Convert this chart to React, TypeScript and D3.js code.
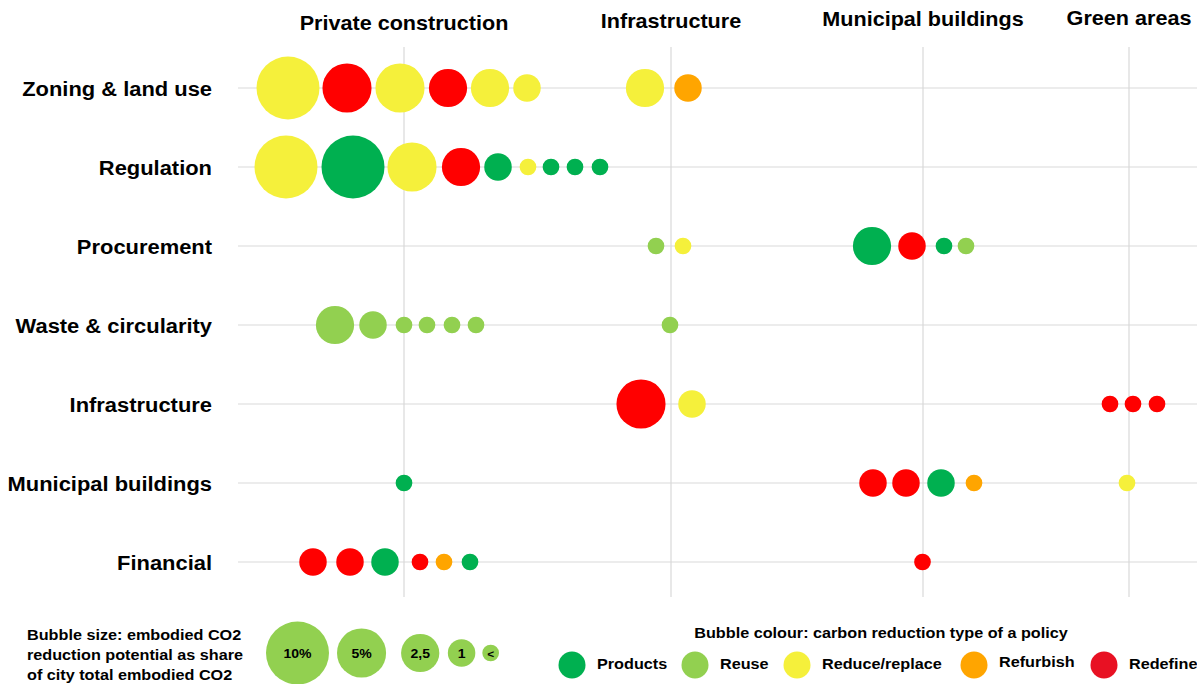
import * as d3 from "d3";

// policy areas (rows) and sectors (column groups)
const rows = [
  "Zoning & land use",
  "Regulation",
  "Procurement",
  "Waste & circularity",
  "Infrastructure",
  "Municipal buildings",
  "Financial",
];
const columnTitles = ["Private construction", "Infrastructure", "Municipal buildings", "Green areas"];
const columnX = [16.6, 43.3, 68.5, 89.1];

const types = ["Products", "Reuse", "Reduce/replace", "Refurbish", "Redefine"];
const typeColors = ["#00B050", "#92D050", "#F5F03B", "#FFA500", "#FF0000"];
const legendColors = ["#00B050", "#92D050", "#F5F03B", "#FFA500", "#E81123"];

const sizeLabels = ["10%", "5%", "2,5", "1", "<"];
const sizeValues = [10, 5, 2.5, 1, 0.25];

// [row, x, share of embodied CO2 (%), reduction type]
const bubbles: [string, number, number, string][] = [
  ["Zoning & land use", 5.0, 10, "Reduce/replace"],
  ["Zoning & land use", 10.9, 5, "Redefine"],
  ["Zoning & land use", 16.2, 5, "Reduce/replace"],
  ["Zoning & land use", 21.0, 2.5, "Redefine"],
  ["Zoning & land use", 25.2, 2.5, "Reduce/replace"],
  ["Zoning & land use", 28.9, 1, "Reduce/replace"],
  ["Zoning & land use", 40.7, 2.5, "Reduce/replace"],
  ["Zoning & land use", 45.0, 1, "Refurbish"],

  ["Regulation", 4.8, 10, "Reduce/replace"],
  ["Regulation", 11.5, 10, "Products"],
  ["Regulation", 17.4, 5, "Reduce/replace"],
  ["Regulation", 22.3, 2.5, "Redefine"],
  ["Regulation", 26.0, 1, "Products"],
  ["Regulation", 29.0, 0.25, "Reduce/replace"],
  ["Regulation", 31.3, 0.25, "Products"],
  ["Regulation", 33.7, 0.25, "Products"],
  ["Regulation", 36.2, 0.25, "Products"],

  ["Procurement", 41.8, 0.25, "Reuse"],
  ["Procurement", 44.5, 0.25, "Reduce/replace"],
  ["Procurement", 63.4, 2.5, "Products"],
  ["Procurement", 67.4, 1, "Redefine"],
  ["Procurement", 70.6, 0.25, "Products"],
  ["Procurement", 72.8, 0.25, "Reuse"],

  ["Waste & circularity", 9.7, 2.5, "Reuse"],
  ["Waste & circularity", 13.5, 1, "Reuse"],
  ["Waste & circularity", 16.6, 0.25, "Reuse"],
  ["Waste & circularity", 18.9, 0.25, "Reuse"],
  ["Waste & circularity", 21.4, 0.25, "Reuse"],
  ["Waste & circularity", 23.8, 0.25, "Reuse"],
  ["Waste & circularity", 43.2, 0.25, "Reuse"],

  ["Infrastructure", 40.3, 5, "Redefine"],
  ["Infrastructure", 45.4, 1, "Reduce/replace"],
  ["Infrastructure", 87.2, 0.25, "Redefine"],
  ["Infrastructure", 89.5, 0.25, "Redefine"],
  ["Infrastructure", 91.9, 0.25, "Redefine"],

  ["Municipal buildings", 16.6, 0.25, "Products"],
  ["Municipal buildings", 63.5, 1, "Redefine"],
  ["Municipal buildings", 66.8, 1, "Redefine"],
  ["Municipal buildings", 70.3, 1, "Products"],
  ["Municipal buildings", 73.6, 0.25, "Refurbish"],
  ["Municipal buildings", 88.9, 0.25, "Reduce/replace"],

  ["Financial", 7.5, 1, "Redefine"],
  ["Financial", 11.2, 1, "Redefine"],
  ["Financial", 14.7, 1, "Products"],
  ["Financial", 18.2, 0.25, "Redefine"],
  ["Financial", 20.6, 0.25, "Refurbish"],
  ["Financial", 23.2, 0.25, "Products"],
  ["Financial", 68.45, 0.25, "Redefine"],
];

const W = 1197;
const H = 684;
const FONT = "'Liberation Sans', Arial, sans-serif";
const STRETCH = 1.08; // the source art is a bit wider than tall

// bold text, stretched horizontally around its anchor
function T({ x, y, size, anchor = "start", children }: any) {
  return (
    <text
      transform={`translate(${x},${y}) scale(${STRETCH},1)`}
      textAnchor={anchor}
      dominantBaseline="central"
      fontWeight="bold"
      fontSize={size}
      fill="#000"
    >
      {children}
    </text>
  );
}

export default function App() {
  const x = d3.scaleLinear().domain([0, 96]).range([238, 1198]);
  const y = d3.scalePoint<string>().domain(rows).range([88, 562]);
  const r = d3.scalePow().exponent(0.36).domain([0, 10]).range([0, 31.5]);
  const color = d3.scaleOrdinal<string, string>().domain(types).range(typeColors);
  const legendColor = d3.scaleOrdinal<string, string>().domain(types).range(legendColors);

  // size legend bubbles packed left to right
  const sizeGaps = [0, 8, 15, 8.5, 7];
  const sizeLegend = sizeValues.map((v, i) => {
    const prev = sizeValues.slice(0, i).reduce((s, p, j) => s + 2 * r(p) + sizeGaps[j + 1], 0);
    return { v, label: sizeLabels[i], cx: 266 + prev + r(v) };
  });

  const legendX = [572, 695, 797, 974, 1104];

  return (
    <svg
      width={W}
      height={H}
      style={{ position: "absolute", left: 0, top: 0, background: "#fff" }}
      fontFamily={FONT}
    >
      {/* gridlines */}
      <g stroke="#d9d9d9" strokeWidth={1.2}>
        {rows.map((row) => (
          <line key={row} x1={238} x2={W} y1={y(row)} y2={y(row)} />
        ))}
        {columnX.map((cx) => (
          <line key={cx} x1={x(cx)} x2={x(cx)} y1={47} y2={597} />
        ))}
      </g>

      {/* column titles */}
      {columnTitles.map((t, i) => (
        <T key={t} x={x(columnX[i])} y={22.5 - i * 1.7} size={20} anchor="middle">
          {t}
        </T>
      ))}

      {/* row labels */}
      {rows.map((row) => (
        <T key={row} x={212} y={(y(row) ?? 0) + 1} size={20.3} anchor="end">
          {row}
        </T>
      ))}

      {/* bubbles */}
      {bubbles.map(([row, bx, v, t], i) => (
        <circle key={i} cx={x(bx)} cy={y(row)} r={r(v)} fill={color(t)} />
      ))}

      {/* size legend */}
      <T x={27} y={635} size={15}>Bubble size: embodied CO2</T>
      <T x={27} y={655} size={15}>reduction potential as share</T>
      <T x={27} y={675} size={15}>of city total embodied CO2</T>
      {sizeLegend.map((d) => (
        <g key={d.label}>
          <circle cx={d.cx} cy={653} r={r(d.v)} fill="#92D050" />
          <T x={d.cx} y={654} size={d.v < 1 ? 11 : 13} anchor="middle">
            {d.label}
          </T>
        </g>
      ))}

      {/* colour legend */}
      <T x={881} y={633} size={15} anchor="middle">
        Bubble colour: carbon reduction type of a policy
      </T>
      {types.map((t, i) => (
        <g key={t}>
          <circle cx={legendX[i]} cy={665} r={13.5} fill={legendColor(t)} />
          <T x={legendX[i] + 25} y={t === "Refurbish" ? 662 : 663.5} size={15}>
            {t}
          </T>
        </g>
      ))}
    </svg>
  );
}
